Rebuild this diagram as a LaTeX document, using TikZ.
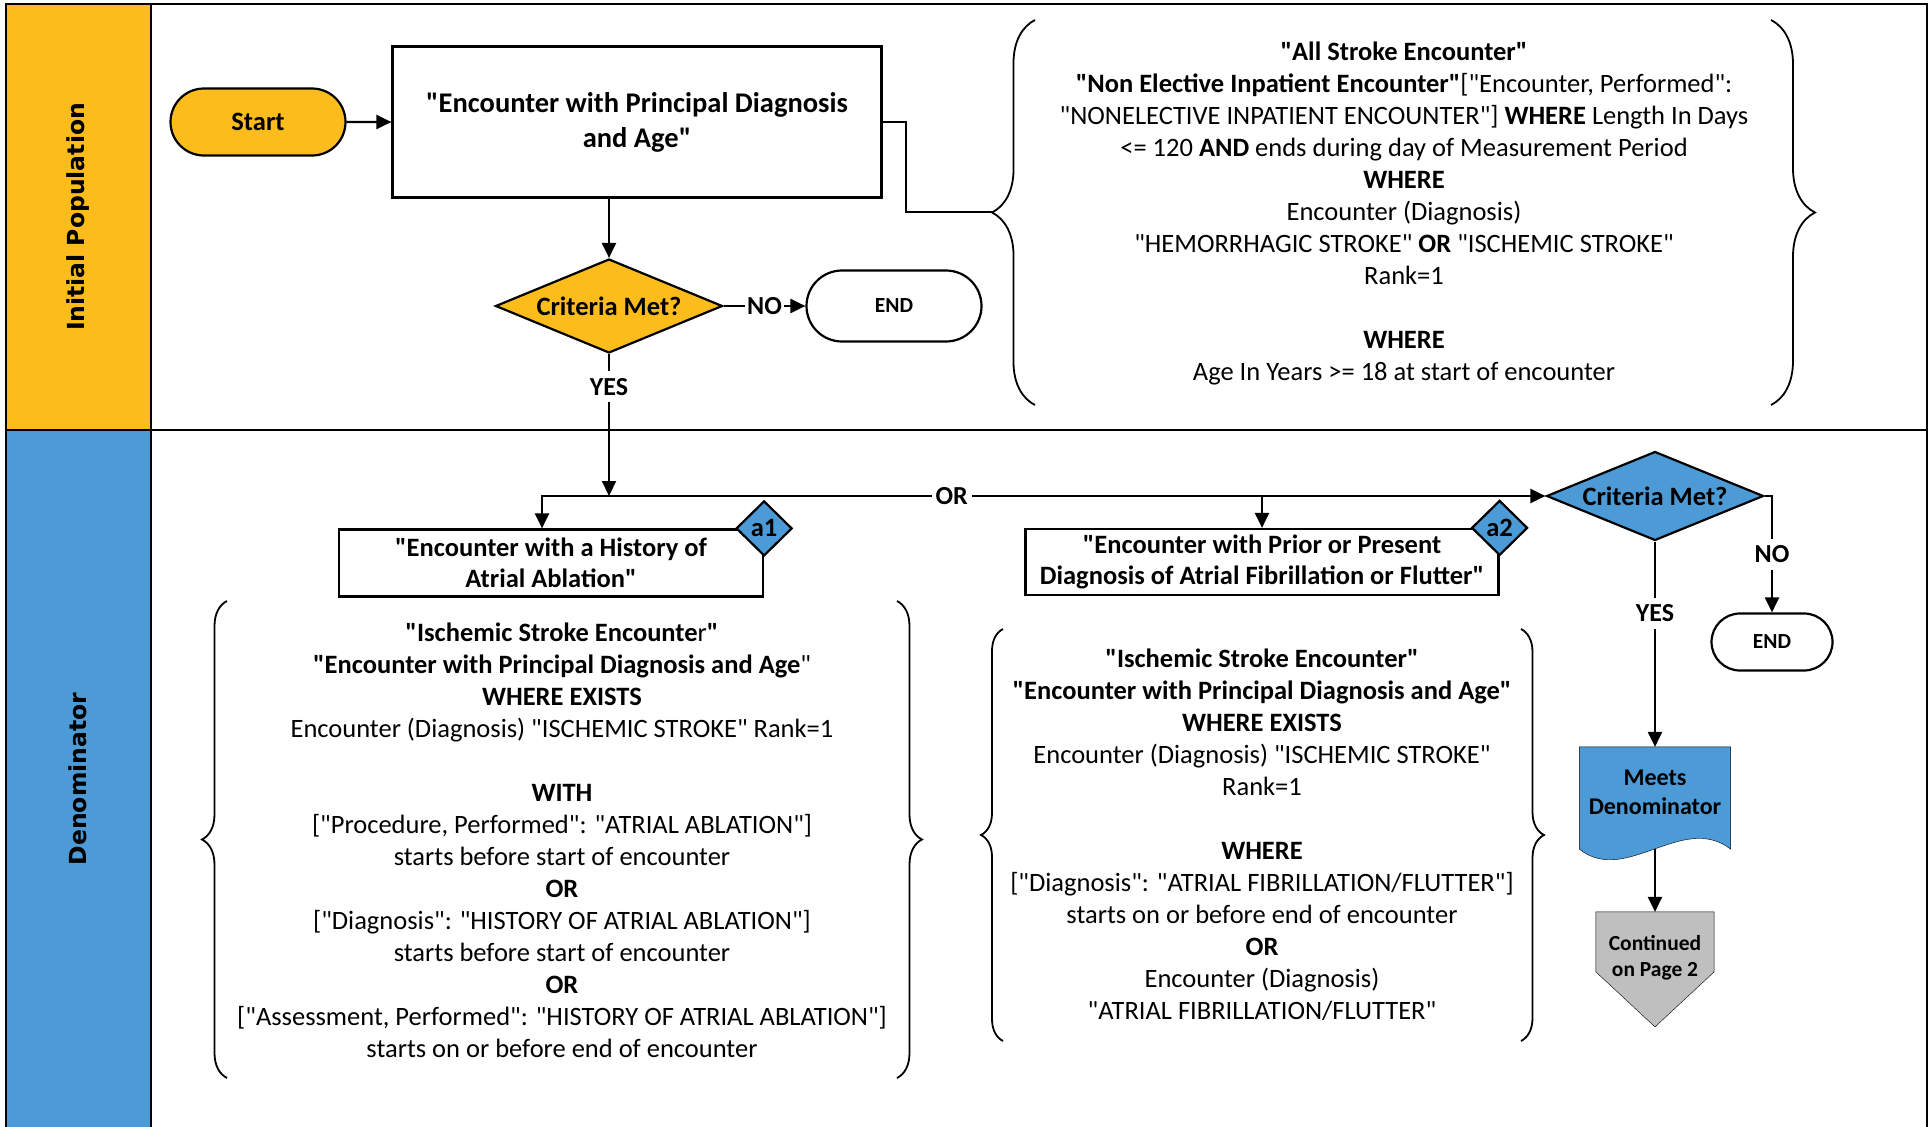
\documentclass[tikz,border=0pt]{standalone}
\usepackage{fontspec}
\setmainfont{Carlito}[Ligatures=TeXOff]
\newfontfamily\lanefont{DejaVu Sans}
\usetikzlibrary{shapes.geometric,shapes.misc,arrows.meta,decorations.pathreplacing,backgrounds}
\definecolor{ipyellow}{RGB}{252,188,27}
\definecolor{denblue}{RGB}{76,155,214}
\definecolor{contgray}{RGB}{191,191,191}

\begin{document}
\begin{tikzpicture}
    [x=1pt,y=-1pt,line width=2.2pt,
      every node/.style={inner sep=0pt,font=\fontsize{26.5}{32}\selectfont},
      arr/.style={-{Triangle[length=15pt,width=14pt]}},
      term/.style={rounded rectangle,draw,font=\bfseries\fontsize{26.5}{32}\selectfont},
      endterm/.style={term,font=\bfseries\fontsize{21.5}{26}\selectfont},
      stepbox/.style={rectangle,draw,fill=white,align=center,font=\bfseries\fontsize{26.5}{31}\selectfont},
      crit/.style={diamond,draw,aspect=2.4,font=\bfseries\fontsize{26.5}{32}\selectfont},
      tag/.style={diamond,draw,fill=denblue,minimum width=56,minimum height=55,font=\bfseries\fontsize{26.5}{32}\selectfont},
      deftext/.style={align=center},
      lbl/.style={fill=white,inner xsep=4pt,inner ysep=7pt,font=\bfseries\fontsize{26}{32}\selectfont},
      lane/.style={rotate=90,font=\lanefont\bfseries\fontsize{23.5}{28}\selectfont},
      bracket/.style={decorate,decoration={brace,amplitude=#1},line width=1.8pt}]
    \useasboundingbox (0,0) rectangle (1931,1127);
    \node[lane] (iplane) at (78,217) {Initial Population};
    \node[lane] (denlane) at (78,779) {Denominator};
    \node[term,fill=ipyellow,minimum width=175,minimum height=67] (start) at (258,122) {Start};
    \node[stepbox,minimum width=489,minimum height=151,font=\bfseries\fontsize{28.5}{35}\selectfont] (ipbox) at (637,122)
      {"Encounter with Principal Diagnosis\\and Age"};
    \node[crit,fill=ipyellow,minimum width=227,minimum height=94] (crit1) at (609,306) {Criteria Met?};
    \node[endterm,minimum width=175,minimum height=71] (end1) at (894,306) {END};
    \node[deftext] (ipdef) at (1404,213)
      {\textbf{"All Stroke Encounter"}\\
       \textbf{"Non Elective Inpatient Encounter"}["Encounter, Performed":\\
       "NONELECTIVE INPATIENT ENCOUNTER"] \textbf{WHERE} Length In Days\\
       <= 120 \textbf{AND} ends during day of Measurement Period\\
       \textbf{WHERE}\\
       Encounter (Diagnosis)\\
       "HEMORRHAGIC STROKE" \textbf{OR} "ISCHEMIC STROKE"\\
       Rank=1\\[32pt]
       \textbf{WHERE}\\
       Age In Years >= 18 at start of encounter};
    \coordinate (iptip) at (992,212);
    \draw[bracket=43pt] (1035,405) -- (1035,20);
    \draw[bracket=44pt] (1771,20) -- (1771,405);

    \coordinate (split) at (609,496);
    \node[stepbox,minimum width=424,minimum height=67] (a1box) at (551,563)
      {"Encounter with a History of\\Atrial Ablation"};
    \node[tag] (a1) at (a1box.north east) {a1};
    \node[stepbox,minimum width=473,minimum height=66,text depth=5pt] (a2box) at (1262,562)
      {"Encounter with Prior or Present\\Diagnosis of Atrial Fibrillation or Flutter"};
    \node[tag] (a2) at (a2box.north east) {a2};
    \node[crit,fill=denblue,minimum width=217,minimum height=89] (crit2) at (1655,496) {Criteria Met?};
    \node[endterm,minimum width=121,minimum height=57] (end2) at (1772,642) {END};
    \node[align=center,minimum width=149,minimum height=100,text depth=12pt,font=\bfseries\fontsize{24}{29}\selectfont] (md) at (1655,798)
      {Meets\\Denominator};
    \node[align=center,minimum width=116,minimum height=90,font=\bfseries\fontsize{21.5}{26}\selectfont] (cont) at (1655,958)
      {Continued\\on Page 2};
    \node[deftext] (a1def) at (562,840)
      {\textbf{"Ischemic Stroke Encounte}r\textbf{"}\\
       \textbf{"Encounter with Principal Diagnosis and Age}"\\
       \textbf{WHERE EXISTS}\\
       Encounter (Diagnosis) "ISCHEMIC STROKE" Rank=1\\[32pt]
       \textbf{WITH}\\
       {[}"Procedure, Performed": "ATRIAL ABLATION"]\\
       starts before start of encounter\\
       \textbf{OR}\\
       {[}"Diagnosis": "HISTORY OF ATRIAL ABLATION"]\\
       starts before start of encounter\\
       \textbf{OR}\\
       {[}"Assessment, Performed": "HISTORY OF ATRIAL ABLATION"]\\
       starts on or before end of encounter};
    \draw[bracket=25pt] (227,1078) -- (227,601);
    \draw[bracket=25pt] (897,601) -- (897,1078);
    \node[deftext] (a2def) at (1262,835)
      {\textbf{"Ischemic Stroke Encounter"}\\
       \textbf{"Encounter with Principal Diagnosis and Age"}\\
       \textbf{WHERE EXISTS}\\
       Encounter (Diagnosis) "ISCHEMIC STROKE"\\
       Rank=1\\[32pt]
       \textbf{WHERE}\\
       {[}"Diagnosis": "ATRIAL FIBRILLATION/FLUTTER"]\\
       starts on or before end of encounter\\
       \textbf{OR}\\
       Encounter (Diagnosis)\\
       "ATRIAL FIBRILLATION/FLUTTER"};
    \draw[bracket=22pt] (1003,1041) -- (1003,629);
    \draw[bracket=23pt] (1521,629) -- (1521,1041);

    \draw[arr] (start) -- (ipbox);
    \draw (ipbox.east) -- ++(23,0) |- (iptip);
    \draw[arr] (ipbox.south -| crit1) -- (crit1);
    \draw[arr] (crit1) -- node[lbl,inner xsep=2pt]{NO} (end1);
    \draw[arr] (crit1) -- node[lbl,pos=0.23]{YES} (split);
    \draw[arr] (split) -- node[lbl,pos=0.366]{OR} (crit2);
    \draw[arr] (split) -| ([xshift=-9pt]a1box.north);
    \draw[arr] (split -| a2box) -- (a2box);
    \draw[arr] (crit2.east) -| node[lbl,pos=0.75]{NO} (end2);
    \draw[arr] (crit2) -- node[lbl,pos=0.35]{YES} (md);
    \draw[arr] (md) -- (cont);

    \begin{scope}[on background layer]
      \fill[ipyellow] (6,4) rectangle (151,430);
      \fill[denblue] (6,430) rectangle (151,1127);
      \draw[line width=2.5pt] (6,1127) -- (6,4) -- (1927,4) -- (1927,1127);
      \draw[line width=2.5pt] (6,430) -- (1927,430);
      \draw[line width=2.5pt] (151,4) -- (151,1127);
      \filldraw[fill=denblue] (md.north west) -- (md.north east) -- (md.south east)
        .. controls +(-48,-37) and +(46,37) .. (md.south west) -- cycle;
      \filldraw[fill=contgray] (cont.north west) -- (cont.north east) -- ++(0,60)
        -- ([yshift=-115pt]cont.north) -- ([yshift=-60pt]cont.north west) -- cycle;
    \end{scope}
\end{tikzpicture}
\end{document}
